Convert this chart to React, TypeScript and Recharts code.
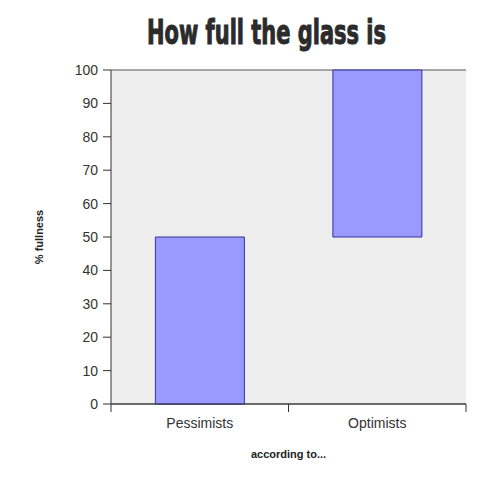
import { Bar, BarChart, CartesianGrid, XAxis, YAxis } from "recharts";

const groups = ["Pessimists", "Optimists"];
const lows = [0, 50];
const highs = [50, 100];
const yTicks = [0, 10, 20, 30, 40, 50, 60, 70, 80, 90, 100];

const data = groups.map((g, i) => ({ name: g, range: [lows[i], highs[i]] }));

const font = "'Liberation Sans', Arial, sans-serif";

// category tick: label in the middle, tick marks on band edges
const CatTick = (props: any) => {
  const { x, y, payload, index, visibleTicksCount } = props;
  const half = payload.offset || 88.75;
  const top = y - 14;
  return (
    <g>
      <line x1={x - half} x2={x - half} y1={top} y2={top + 8} stroke="#333" />
      {index === visibleTicksCount - 1 && (
        <line x1={x + half} x2={x + half} y1={top} y2={top + 8} stroke="#333" />
      )}
      <text x={x} y={y} dy="0.71em" textAnchor="middle" fill="#333" fontSize={14} fontFamily={font}>
        {payload.value}
      </text>
    </g>
  );
};

const App = (): JSX.Element => (
  <div style={{ position: "relative", width: 500, height: 493, margin: -8, background: "#fff" }}>
    <svg width={500} height={60} style={{ position: "absolute", left: 0, top: 0 }}>
      <text
        x={266.5}
        y={44}
        textAnchor="middle"
        fontFamily="'DejaVu Sans Condensed', 'DejaVu Sans', sans-serif"
        fontWeight="bold"
        fontSize={33}
        fill="#2b2b2b"
        stroke="#2b2b2b"
        strokeWidth={1}
        textLength={239}
        lengthAdjust="spacingAndGlyphs"
      >
        How full the glass is
      </text>
    </svg>
    <BarChart
      width={500}
      height={493}
      data={data}
      margin={{ top: 70, right: 34, bottom: 0, left: 0 }}
      barCategoryGap="25%"
    >
      <CartesianGrid vertical={false} stroke="#555" fill="#eeeeee" />
      <XAxis
        dataKey="name"
        height={89}
        tickLine={false}
        tickSize={8}
        tickMargin={6}
        tick={<CatTick />}
        axisLine={{ stroke: "#333" }}
        label={{
          value: "according to...",
          position: "center",
          dy: 6,
          fontSize: 11,
          fontWeight: "bold",
          fill: "#222",
          fontFamily: font,
        }}
      />
      <YAxis
        yAxisId="left"
        width={111}
        domain={[0, 100]}
        ticks={yTicks}
        interval={0}
        tickSize={8}
        tickMargin={5}
        tick={{ fill: "#333", fontSize: 14, fontFamily: font }}
        tickLine={{ stroke: "#333" }}
        axisLine={{ stroke: "#333" }}
        label={{
          value: "% fullness",
          angle: -90,
          position: "center",
          dx: -16,
          fontSize: 11,
          fontWeight: "bold",
          fill: "#222",
          fontFamily: font,
        }}
      />
      <YAxis
        yAxisId="right"
        orientation="right"
        width={0}
        domain={[0, 100]}
        tick={false}
        tickLine={false}
        axisLine={{ stroke: "#333" }}
      />
      <Bar
        yAxisId="left"
        dataKey="range"
        fill="#9999ff"
        stroke="#333399"
        strokeWidth={1}
        isAnimationActive={false}
      />
    </BarChart>
  </div>
);

export default App;
